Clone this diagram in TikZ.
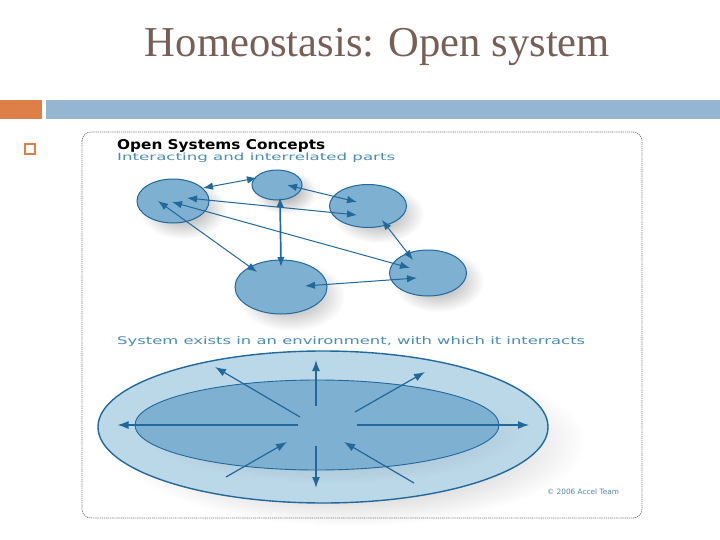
\documentclass[tikz,border=0pt]{standalone}
\usepackage{fontspec}
\setmainfont{Liberation Serif}
\newfontfamily\diagfont{DejaVu Sans}
\usetikzlibrary{shapes.geometric,arrows.meta,fadings}
\definecolor{titlec}{HTML}{775F55}
\definecolor{orangebar}{HTML}{DD8047}
\definecolor{bluebar}{HTML}{94B6D2}
\definecolor{partfill}{HTML}{7DB0D1}
\definecolor{partline}{HTML}{21699A}
\definecolor{envfill}{HTML}{BBD8E9}
\definecolor{txtblue}{HTML}{4A8CB4}
\tikzfading[name=softshadow, inner color=transparent!35, outer color=transparent!100]
\begin{document}
\begin{tikzpicture}[x=1pt,y=-1pt,
  part/.style={ellipse, draw=partline, line width=1pt, fill=partfill, inner sep=0pt},
  link/.style={draw=partline, line width=1pt, {Latex[length=10pt,width=7.5pt]}-{Latex[length=10pt,width=7.5pt]}},
  outarrow/.style={draw=partline, line width=1.2pt, -{Latex[length=11pt,width=8pt]}},
  softshade/.style={fill=black!60, path fading=softshadow},
  headtext/.style={anchor=base west, inner sep=0pt, font=\diagfont}]
\useasboundingbox (0,0) rectangle (720,540);
\fill[white] (0,0) rectangle (720,540);

% title and slide decoration
\node[anchor=base, inner sep=0pt, text=titlec] (title) at (377.5,56.5)
  {\resizebox{465pt}{!}{Homeostasis: Open system}};
\fill[orangebar] (0,100) rectangle (42,119);
\fill[bluebar] (46,100) rectangle (720,119);
\draw[orangebar, line width=1.3pt] (25,144) rectangle (35,154);

% picture frame
\draw[black!55, line width=0.7pt, dash pattern=on 1.2pt off 0.9pt, rounded corners=9pt]
  (82,132) rectangle (642,518);

% headings
\node[headtext, text=black] (h1) at (117,150)
  {\resizebox{208pt}{10pt}{\bfseries Open Systems Concepts}};
\node[headtext, text=txtblue] (h2) at (117,161)
  {\resizebox{278pt}{7.5pt}{Interacting and interrelated parts}};
\node[headtext, text=txtblue] (h3) at (117,344)
  {\resizebox{468pt}{8pt}{System exists in an environment, with which it interracts}};

% shadows of the parts
\fill[softshade] (183,209) ellipse [x radius=44, y radius=30];
\fill[softshade] (285,192) ellipse [x radius=32, y radius=22];
\fill[softshade] (378,214) ellipse [x radius=46, y radius=29];
\fill[softshade] (291,296) ellipse [x radius=54, y radius=35];
\fill[softshade] (438,281) ellipse [x radius=46, y radius=31];

% parts
\node[part, minimum width=72pt, minimum height=44pt] (A) at (173,201) {};
\node[part, minimum width=50pt, minimum height=30pt] (B) at (277,185) {};
\node[part, minimum width=77pt, minimum height=43pt] (C) at (368,206) {};
\node[part, minimum width=92pt, minimum height=54pt] (D) at (281,287) {};
\node[part, minimum width=77pt, minimum height=46pt] (E) at (428,273) {};

% connections between parts
\draw[link] ([shift={(30,-13)}]A.center) -- ([shift={(-20,-7)}]B.center);
\draw[link] ([shift={(10,0)}]B.center) -- ([shift={(-11,-4)}]C.center);
\draw[link] ([shift={(14,-3)}]A.center) -- ([shift={(-11,9)}]C.center);
\draw[link, line width=1.7pt] ([shift={(3,12)}]B.center) -- ([shift={(0,-20)}]D.center);
\draw[link] ([shift={(-15,0)}]A.center) -- ([shift={(-24,-15)}]D.center);
\draw[link] ([shift={(-1,1)}]A.center) -- ([shift={(-18,-5)}]E.center);
\draw[link] ([shift={(24,-1)}]D.center) -- ([shift={(-11,5)}]E.center);
\draw[link] ([shift={(14,14)}]C.center) -- ([shift={(-15,-13)}]E.center);

% environment
\fill[softshade] (350,442) ellipse [x radius=235, y radius=84];
\node[ellipse, draw=partline, line width=1.4pt, fill=envfill, inner sep=0pt,
  minimum width=450pt, minimum height=152pt] (env) at (323,427) {};
\fill[black!70, path fading=softshadow, opacity=0.5] (332,433) ellipse [x radius=190, y radius=50];
\node[ellipse, draw=partline, line width=0.9pt, fill=partfill, inner sep=0pt,
  minimum width=364pt, minimum height=90pt] (sys) at (317,425) {};

% interactions with the environment
\draw[outarrow] ([shift={(-19,0)}]sys.center) -- ([shift={(-205.5,-2)}]env.center);
\draw[outarrow] ([shift={(40,0)}]sys.center) -- ([shift={(206,-2)}]env.center);
\draw[outarrow, line width=1.6pt] ([shift={(-1,-19)}]sys.center) -- ([shift={(-7,-67)}]env.center);
\draw[outarrow, line width=1.6pt] ([shift={(-1,21)}]sys.center) -- ([shift={(-7,61)}]env.center);
\draw[outarrow] ([shift={(-17,-8)}]sys.center) -- ([shift={(-108,-60)}]env.center);
\draw[outarrow] ([shift={(38,-13)}]sys.center) -- ([shift={(102,-55)}]env.center);
\draw[outarrow] ([shift={(-97,50)}]env.center) -- ([shift={(-30,17)}]sys.center);
\draw[outarrow] ([shift={(91,56)}]env.center) -- ([shift={(27,17)}]sys.center);

\node[inner sep=0pt, text=partline!80, font=\diagfont] (copy) at (583,492)
  {\resizebox{72pt}{!}{© 2006 Accel Team}};
\end{tikzpicture}
\end{document}
